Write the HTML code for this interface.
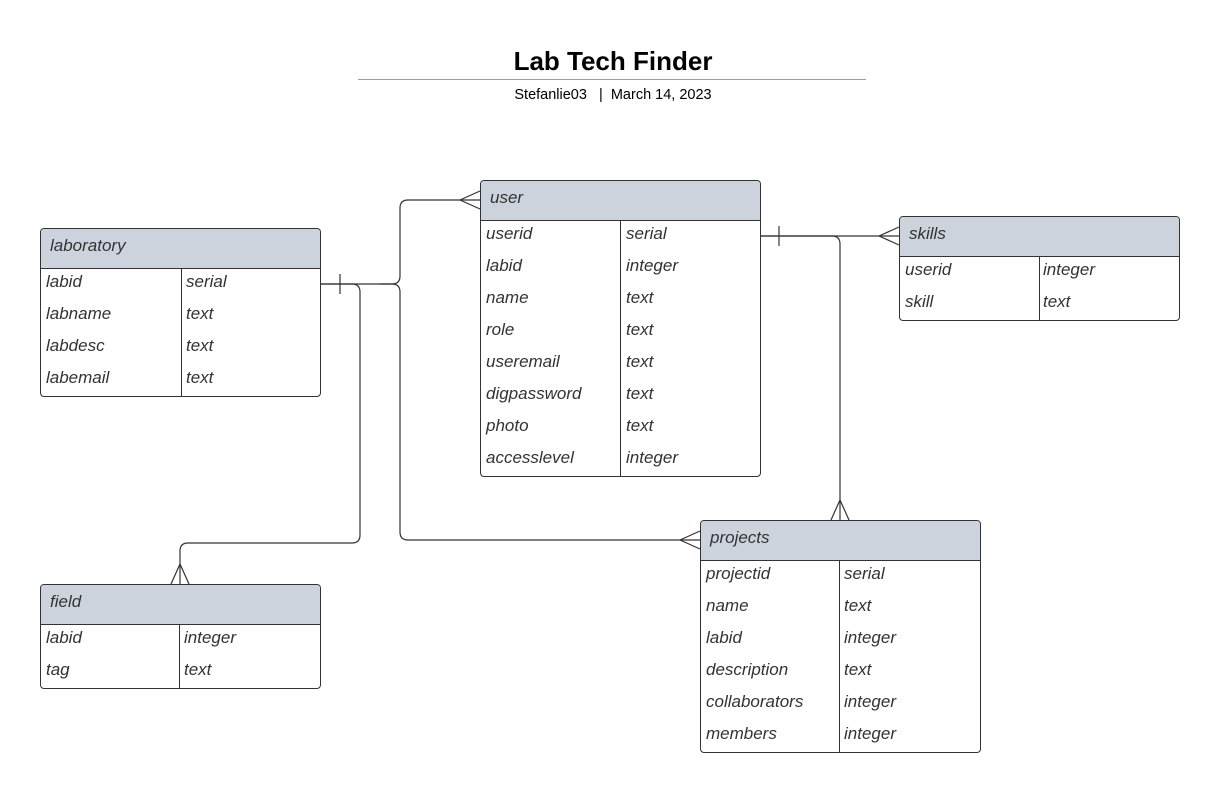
<!DOCTYPE html>
<html><head><meta charset="utf-8"><style>
body{margin:0;width:1220px;height:808px;background:#fff;font-family:"Liberation Sans",sans-serif;position:relative;overflow:hidden}
.t{position:absolute;left:0;width:1220px;text-align:center}
.tb{position:absolute;border:1px solid #333;border-radius:4px;background:#fff;overflow:hidden;box-sizing:border-box}
.h{height:40px;background:#cdd3dc;border-bottom:1px solid #333;box-sizing:border-box;font-style:italic;font-size:17px;color:#333;padding:7px 9px}
.r{height:32px;position:relative;font-style:italic;font-size:17px;color:#333}
.r span{position:absolute;top:3px}
.sp{position:absolute;top:40px;bottom:0;border-left:1px solid #333}
</style></head><body>
<div class="t" style="top:46px;left:3px;font-size:26px;font-weight:bold;color:#000">Lab Tech Finder</div>
<div style="position:absolute;left:358px;top:79px;width:508px;border-top:1px solid #9aa0aa"></div>
<div class="t" style="top:87px;left:3px;font-size:14.5px;color:#000">Stefanlie03 &nbsp;&nbsp;| &nbsp;March 14, 2023</div>
<svg width="1220" height="808" style="position:absolute;left:0;top:0" fill="none" stroke="#333" stroke-width="1.2">
<path d="M320 284H392Q400 284 400 276V208Q400 200 408 200H480"/>
<path d="M460 200L480 191M460 200L480 209"/>
<path d="M340 274V294"/>
<path d="M320 284H352Q360 284 360 292V535Q360 543 352 543H188Q180 543 180 551V584"/>
<path d="M180 564L171 584M180 564L189 584"/>
<path d="M380 284H392Q400 284 400 292V532Q400 540 408 540H700"/>
<path d="M680 540L700 531M680 540L700 549"/>
<path d="M760 236H899"/>
<path d="M779 226V246"/>
<path d="M879 236L899 227M879 236L899 245"/>
<path d="M760 236H832Q840 236 840 244V520"/>
<path d="M840 500L831 520M840 500L849 520"/>
</svg>
<div class="tb" style="left:40px;top:228px;width:281px;height:169px"><div class="h">laboratory</div><div class="sp" style="left:140px"></div>
<div class="r"><span style="left:5px">labid</span><span style="left:145px">serial</span></div>
<div class="r"><span style="left:5px">labname</span><span style="left:145px">text</span></div>
<div class="r"><span style="left:5px">labdesc</span><span style="left:145px">text</span></div>
<div class="r"><span style="left:5px">labemail</span><span style="left:145px">text</span></div></div>
<div class="tb" style="left:480px;top:180px;width:281px;height:297px"><div class="h">user</div><div class="sp" style="left:139px"></div>
<div class="r"><span style="left:5px">userid</span><span style="left:145px">serial</span></div>
<div class="r"><span style="left:5px">labid</span><span style="left:145px">integer</span></div>
<div class="r"><span style="left:5px">name</span><span style="left:145px">text</span></div>
<div class="r"><span style="left:5px">role</span><span style="left:145px">text</span></div>
<div class="r"><span style="left:5px">useremail</span><span style="left:145px">text</span></div>
<div class="r"><span style="left:5px">digpassword</span><span style="left:145px">text</span></div>
<div class="r"><span style="left:5px">photo</span><span style="left:145px">text</span></div>
<div class="r"><span style="left:5px">accesslevel</span><span style="left:145px">integer</span></div></div>
<div class="tb" style="left:899px;top:216px;width:281px;height:105px"><div class="h">skills</div><div class="sp" style="left:139px"></div>
<div class="r"><span style="left:5px">userid</span><span style="left:143px">integer</span></div>
<div class="r"><span style="left:5px">skill</span><span style="left:143px">text</span></div></div>
<div class="tb" style="left:40px;top:584px;width:281px;height:105px"><div class="h">field</div><div class="sp" style="left:138px"></div>
<div class="r"><span style="left:5px">labid</span><span style="left:143px">integer</span></div>
<div class="r"><span style="left:5px">tag</span><span style="left:143px">text</span></div></div>
<div class="tb" style="left:700px;top:520px;width:281px;height:233px"><div class="h">projects</div><div class="sp" style="left:138px"></div>
<div class="r"><span style="left:5px">projectid</span><span style="left:143px">serial</span></div>
<div class="r"><span style="left:5px">name</span><span style="left:143px">text</span></div>
<div class="r"><span style="left:5px">labid</span><span style="left:143px">integer</span></div>
<div class="r"><span style="left:5px">description</span><span style="left:143px">text</span></div>
<div class="r"><span style="left:5px">collaborators</span><span style="left:143px">integer</span></div>
<div class="r"><span style="left:5px">members</span><span style="left:143px">integer</span></div></div>
</body></html>
